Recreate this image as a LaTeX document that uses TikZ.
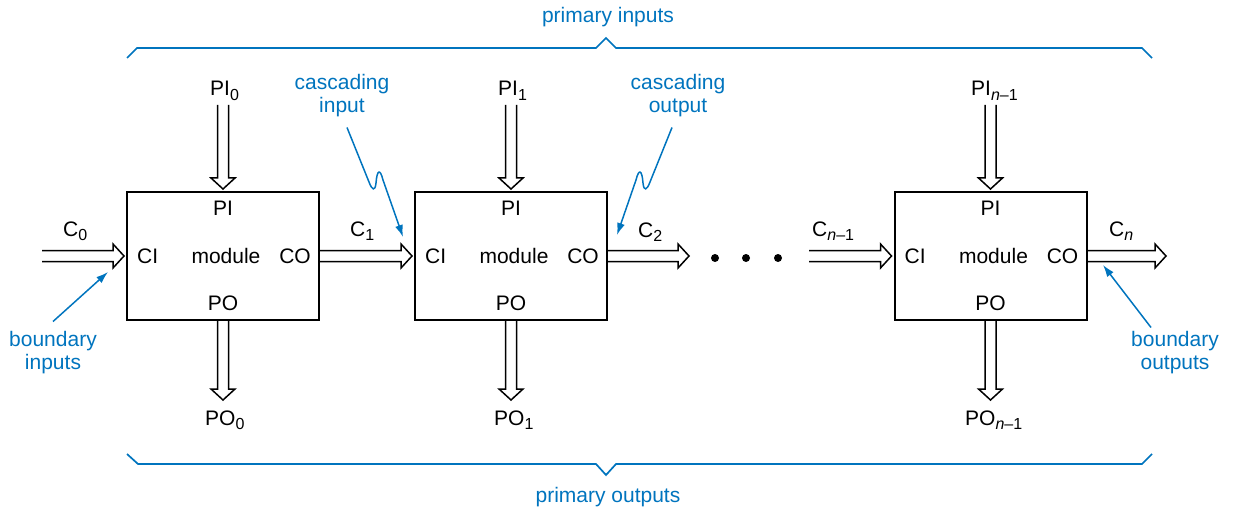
\documentclass[tikz,border=0pt]{standalone}
\usepackage{fontspec}
\setmainfont{Liberation Sans}
\usetikzlibrary{calc,positioning,arrows.meta}
\definecolor{noteblue}{RGB}{0,116,190}
\newcommand{\idx}[1]{\raisebox{-4.5pt}{\fontsize{16}{16}\selectfont #1}}

\begin{document}
\begin{tikzpicture}[x=1pt, y=-1pt,
  every node/.style={font=\fontsize{21}{23}\selectfont},
  module/.style={draw, line width=2pt, minimum width=192pt, minimum height=128pt, inner sep=0pt},
  port/.style={inner sep=3pt},
  sig/.style={anchor=base west, inner sep=0pt},
  note/.style={text=noteblue, align=center, inner sep=2pt},
  callout/.style={draw=noteblue, line width=1.5pt, -{Latex[length=12pt,width=8pt]}},
  brace/.style={draw=noteblue, line width=1.7pt},
  bus/.style={line width=1.5pt, to path={
    ($(\tikztotarget)!2pt!(\tikztostart)$) coordinate (bt)
    ($(bt)!11pt!(\tikztostart)$) coordinate (bb)
    ($(\tikztostart)!5.5pt!90:(\tikztotarget)$) -- ($(bb)!5.5pt!90:(\tikztotarget)$)
    -- ($(bb)!12pt!90:(\tikztotarget)$) -- (bt)
    -- ($(bb)!12pt!-90:(\tikztotarget)$) -- ($(bb)!5.5pt!-90:(\tikztotarget)$)
    -- ($(\tikztostart)!5.5pt!-90:(\tikztotarget)$)}}]
  \useasboundingbox (0,0) rectangle (1233,513);

  % modules
  \node[module] (m0) at (223,256) {};
  \node[module] (m1) at (511,256) {};
  \node[module] (m2) at (990.5,256) {};

  % ports
  \node[port, below=7pt of m0.north] (m0pi) {PI};
  \node[port, right=8pt of m0.west] (m0ci) {CI};
  \node[port, xshift=3pt] (m0mod) at (m0.center) {module};
  \node[port, left=6pt of m0.east] (m0co) {CO};
  \node[port, above=7pt of m0.south] (m0po) {PO};

  \node[port, below=7pt of m1.north] (m1pi) {PI};
  \node[port, right=8pt of m1.west] (m1ci) {CI};
  \node[port, xshift=3pt] (m1mod) at (m1.center) {module};
  \node[port, left=6pt of m1.east] (m1co) {CO};
  \node[port, above=7pt of m1.south] (m1po) {PO};

  \node[port, below=7pt of m2.north] (m2pi) {PI};
  \node[port, right=8pt of m2.west] (m2ci) {CI};
  \node[port, xshift=3pt] (m2mod) at (m2.center) {module};
  \node[port, left=6pt of m2.east] (m2co) {CO};
  \node[port, above=7pt of m2.south] (m2po) {PO};

  % signal names
  \node[sig] (pi0) at (210,96) {PI\idx{0}};
  \node[sig] (pi1) at (498,96) {PI\idx{1}};
  \node[sig] (pin) at (971,96) {PI\idx{\textit{n}–1}};
  \node[sig] (po0) at (205,425) {PO\idx{0}};
  \node[sig] (po1) at (494,425) {PO\idx{1}};
  \node[sig] (pon) at (965,425) {PO\idx{\textit{n}–1}};
  \node[sig] (c0) at (63,236) {C\idx{0}};
  \node[sig] (c1) at (350,236) {C\idx{1}};
  \node[sig] (c2) at (638,237) {C\idx{2}};
  \node[sig] (cn1) at (812,236) {C\idx{\textit{n}–1}};
  \node[sig] (cn) at (1109,236) {C\idx{\textit{n}}};

  % bus ends
  \coordinate (c0s) at (42,256);
  \coordinate (c2e) at (691,256);
  \coordinate (cn1s) at (809,256);
  \coordinate (cne) at (1168,256);
  \coordinate (pi0s) at (223,105);
  \coordinate (pi1s) at (511,105);
  \coordinate (pins) at (990.5,105);
  \coordinate (po0e) at (223,402);
  \coordinate (po1e) at (511,402);
  \coordinate (pone) at (990.5,402);

  % buses
  \draw[bus] (c0s) to (m0.west);
  \draw[bus] (m0.east) to (m1.west);
  \draw[bus] (m1.east) to (c2e);
  \draw[bus] (cn1s) to (m2.west);
  \draw[bus] (m2.east) to (cne);
  \draw[bus] (pi0s) to (m0.north);
  \draw[bus] (pi1s) to (m1.north);
  \draw[bus] (pins) to (m2.north);
  \draw[bus] (m0.south) to (po0e);
  \draw[bus] (m1.south) to (po1e);
  \draw[bus] (m2.south) to (pone);

  % dots
  \fill (715,258) circle (4);
  \fill (746,258) circle (4);
  \fill (778,258) circle (4);

  % braces
  \draw[brace] (127,58) -- (137,48) -- (596,48) -- (606,38) -- (616,48) -- (1142,48) -- (1152,58);
  \draw[brace] (127,454) -- (138,464) -- (596,464) -- (606,475) -- (616,464) -- (1142,464) -- (1152,454);

  % notes
  \node[note] (prin) at (608,17) {primary inputs};
  \node[note] (prout) at (608,497) {primary outputs};
  \node[note] (casin) at (342,96) {cascading\\input};
  \node[note] (casout) at (678,96) {cascading\\output};
  \node[note] (bdin) at (53,353) {boundary\\inputs};
  \node[note] (bdout) at (1175,353) {boundary\\outputs};

  % callouts
  \coordinate (casintip) at (403,237);
  \coordinate (casouttip) at (617,235);
  \coordinate (bdintip) at (108,272);
  \coordinate (bdouttip) at (1103,265);
  \draw[callout] ([xshift=5pt,yshift=-8pt]casin.south) -- (369,182)
    .. controls (372,190) and (375,192) .. (376,183)
    .. controls (377,170) and (380,168) .. (383,180) -- (casintip);
  \draw[callout] ([xshift=-6pt,yshift=-8pt]casout.south) -- (650,182)
    .. controls (647,190) and (644,192) .. (643,183)
    .. controls (642,170) and (639,168) .. (636,180) -- (casouttip);
  \draw[callout] ([yshift=8pt]bdin.north) -- (bdintip);
  \draw[callout] ([xshift=22pt,yshift=2pt]bdout.north west) -- (bdouttip);
\end{tikzpicture}
\end{document}
